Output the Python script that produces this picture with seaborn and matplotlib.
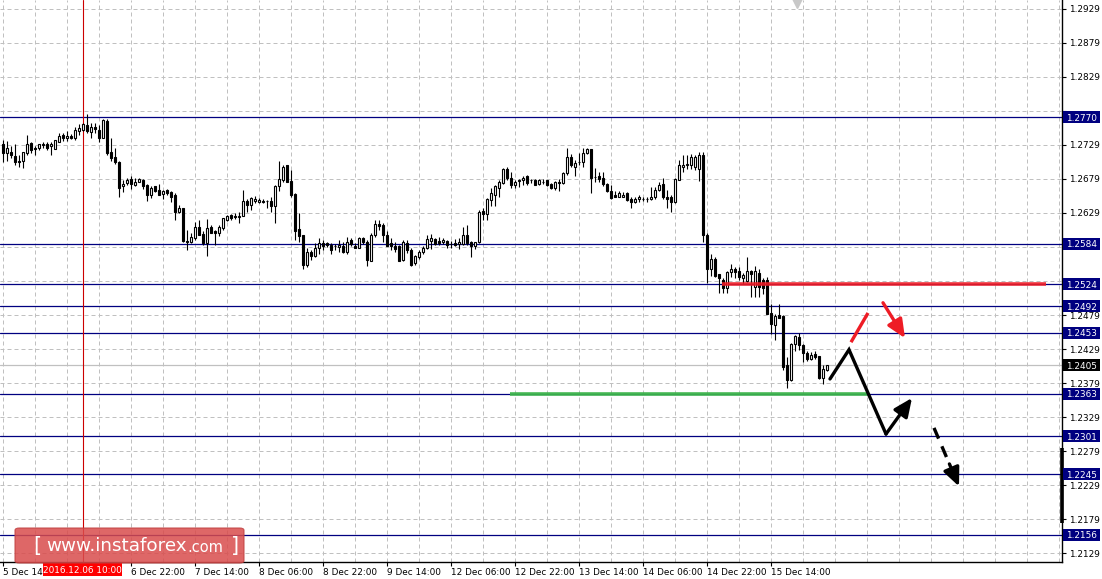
import numpy as np
import pandas as pd
import matplotlib
matplotlib.use("Agg")
import matplotlib.pyplot as plt
import matplotlib.transforms as mtransforms
from matplotlib.patches import Rectangle, FancyBboxPatch
import seaborn as sns

# ---------------- data (hourly candles) ----------------
opens = [
    1.2730, 1.2717, 1.2718, 1.2713, 1.2706, 1.2706, 1.2717, 1.2732, 1.2725, 1.2724,
    1.2729, 1.2730, 1.2727, 1.2723, 1.2734, 1.2744, 1.2740, 1.2742, 1.2739, 1.2749,
    1.2751, 1.2759, 1.2748, 1.2755, 1.2751, 1.2740, 1.2764, 1.2718, 1.2711, 1.2704,
    1.2668, 1.2673, 1.2679, 1.2670, 1.2675, 1.2678, 1.2670, 1.2656, 1.2669, 1.2663,
    1.2657, 1.2663, 1.2660, 1.2655, 1.2631, 1.2636, 1.2588, 1.2586, 1.2592, 1.2608,
    1.2598, 1.2585, 1.2609, 1.2602, 1.2599, 1.2607, 1.2618, 1.2626, 1.2625, 1.2623,
    1.2624, 1.2647, 1.2641, 1.2646, 1.2645, 1.2647, 1.2647, 1.2646, 1.2640, 1.2669,
    1.2678, 1.2699, 1.2676, 1.2657, 1.2605, 1.2596, 1.2553, 1.2572, 1.2566, 1.2577,
    1.2585, 1.2585, 1.2582, 1.2580, 1.2579, 1.2581, 1.2572, 1.2589, 1.2581, 1.2578,
    1.2592, 1.2587, 1.2559, 1.2596, 1.2613, 1.2612, 1.2597, 1.2585, 1.2580, 1.2580,
    1.2560, 1.2585, 1.2575, 1.2555, 1.2565, 1.2571, 1.2577, 1.2588, 1.2591, 1.2588,
    1.2586, 1.2588, 1.2584, 1.2585, 1.2584, 1.2584, 1.2596, 1.2586, 1.2581, 1.2586,
    1.2632, 1.2627, 1.2648, 1.2656, 1.2666, 1.2673, 1.2693, 1.2681, 1.2670, 1.2676,
    1.2677, 1.2683, 1.2677, 1.2678, 1.2671, 1.2675, 1.2677, 1.2672, 1.2666, 1.2674,
    1.2673, 1.2688, 1.2712, 1.2697, 1.2704, 1.2704, 1.2717, 1.2723, 1.2682, 1.2684,
    1.2680, 1.2671, 1.2662, 1.2656, 1.2653, 1.2653, 1.2658, 1.2649, 1.2645, 1.2649,
    1.2650, 1.2649, 1.2649, 1.2652, 1.2663, 1.2671, 1.2653, 1.2652, 1.2645, 1.2678,
    1.2697, 1.2699, 1.2699, 1.2696, 1.2694, 1.2715, 1.2596, 1.2547, 1.2562, 1.2539,
    1.2531, 1.2518, 1.2542, 1.2547, 1.2544, 1.2534, 1.2529, 1.2543, 1.2520, 1.2541,
    1.2531, 1.2530, 1.2482, 1.2464, 1.2479, 1.2477, 1.2405, 1.2383, 1.2436, 1.2447,
    1.2435, 1.2423, 1.2414, 1.2421, 1.2418, 1.2387, 1.2398,
]
highs = [
    1.2737, 1.2735, 1.2727, 1.2730, 1.2715, 1.2719, 1.2744, 1.2733, 1.2728, 1.2731,
    1.2733, 1.2733, 1.2733, 1.2737, 1.2746, 1.2746, 1.2750, 1.2745, 1.2756, 1.2760,
    1.2761, 1.2775, 1.2761, 1.2761, 1.2758, 1.2767, 1.2767, 1.2739, 1.2724, 1.2705,
    1.2678, 1.2681, 1.2683, 1.2680, 1.2681, 1.2679, 1.2671, 1.2669, 1.2669, 1.2672,
    1.2663, 1.2664, 1.2662, 1.2658, 1.2641, 1.2637, 1.2604, 1.2599, 1.2616, 1.2619,
    1.2602, 1.2620, 1.2612, 1.2604, 1.2612, 1.2622, 1.2626, 1.2627, 1.2629, 1.2630,
    1.2663, 1.2649, 1.2653, 1.2654, 1.2651, 1.2649, 1.2648, 1.2653, 1.2670, 1.2705,
    1.2700, 1.2700, 1.2692, 1.2658, 1.2629, 1.2597, 1.2577, 1.2575, 1.2585, 1.2592,
    1.2589, 1.2586, 1.2585, 1.2584, 1.2589, 1.2587, 1.2594, 1.2592, 1.2585, 1.2594,
    1.2594, 1.2589, 1.2599, 1.2619, 1.2619, 1.2615, 1.2602, 1.2592, 1.2586, 1.2582,
    1.2590, 1.2590, 1.2577, 1.2567, 1.2575, 1.2580, 1.2597, 1.2598, 1.2592, 1.2593,
    1.2592, 1.2590, 1.2588, 1.2591, 1.2592, 1.2609, 1.2612, 1.2588, 1.2587, 1.2634,
    1.2636, 1.2651, 1.2666, 1.2670, 1.2678, 1.2695, 1.2697, 1.2690, 1.2678, 1.2679,
    1.2683, 1.2685, 1.2679, 1.2679, 1.2679, 1.2679, 1.2678, 1.2673, 1.2676, 1.2679,
    1.2689, 1.2724, 1.2716, 1.2707, 1.2717, 1.2724, 1.2725, 1.2723, 1.2695, 1.2690,
    1.2689, 1.2673, 1.2670, 1.2661, 1.2662, 1.2660, 1.2660, 1.2652, 1.2653, 1.2655,
    1.2653, 1.2652, 1.2667, 1.2667, 1.2675, 1.2680, 1.2663, 1.2655, 1.2680, 1.2707,
    1.2714, 1.2714, 1.2716, 1.2714, 1.2719, 1.2719, 1.2600, 1.2569, 1.2565, 1.2540,
    1.2534, 1.2544, 1.2554, 1.2550, 1.2549, 1.2541, 1.2565, 1.2545, 1.2551, 1.2546,
    1.2534, 1.2535, 1.2495, 1.2480, 1.2495, 1.2479, 1.2417, 1.2438, 1.2449, 1.2452,
    1.2436, 1.2426, 1.2425, 1.2426, 1.2419, 1.2405, 1.2406,
]
lows = [
    1.2704, 1.2705, 1.2710, 1.2700, 1.2696, 1.2695, 1.2714, 1.2717, 1.2715, 1.2722,
    1.2725, 1.2722, 1.2715, 1.2723, 1.2733, 1.2735, 1.2735, 1.2738, 1.2737, 1.2744,
    1.2749, 1.2746, 1.2740, 1.2746, 1.2733, 1.2739, 1.2715, 1.2705, 1.2701, 1.2653,
    1.2660, 1.2670, 1.2665, 1.2668, 1.2674, 1.2665, 1.2647, 1.2651, 1.2660, 1.2655,
    1.2650, 1.2656, 1.2645, 1.2619, 1.2629, 1.2587, 1.2575, 1.2585, 1.2590, 1.2596,
    1.2582, 1.2566, 1.2599, 1.2582, 1.2595, 1.2604, 1.2617, 1.2619, 1.2620, 1.2614,
    1.2624, 1.2631, 1.2633, 1.2644, 1.2644, 1.2643, 1.2636, 1.2631, 1.2614, 1.2661,
    1.2675, 1.2674, 1.2653, 1.2590, 1.2586, 1.2546, 1.2550, 1.2560, 1.2564, 1.2569,
    1.2575, 1.2579, 1.2569, 1.2575, 1.2572, 1.2570, 1.2569, 1.2580, 1.2577, 1.2577,
    1.2584, 1.2551, 1.2558, 1.2594, 1.2604, 1.2587, 1.2580, 1.2575, 1.2572, 1.2558,
    1.2559, 1.2570, 1.2551, 1.2553, 1.2562, 1.2569, 1.2576, 1.2576, 1.2582, 1.2582,
    1.2583, 1.2578, 1.2577, 1.2580, 1.2576, 1.2582, 1.2582, 1.2564, 1.2576, 1.2585,
    1.2619, 1.2619, 1.2639, 1.2639, 1.2652, 1.2671, 1.2678, 1.2666, 1.2666, 1.2667,
    1.2670, 1.2670, 1.2673, 1.2670, 1.2670, 1.2672, 1.2668, 1.2665, 1.2663, 1.2661,
    1.2671, 1.2685, 1.2697, 1.2684, 1.2699, 1.2697, 1.2716, 1.2658, 1.2675, 1.2675,
    1.2668, 1.2660, 1.2650, 1.2652, 1.2652, 1.2652, 1.2647, 1.2636, 1.2643, 1.2645,
    1.2647, 1.2645, 1.2648, 1.2650, 1.2662, 1.2650, 1.2637, 1.2631, 1.2644, 1.2677,
    1.2689, 1.2694, 1.2693, 1.2692, 1.2676, 1.2587, 1.2526, 1.2536, 1.2535, 1.2512,
    1.2511, 1.2511, 1.2535, 1.2534, 1.2530, 1.2525, 1.2528, 1.2506, 1.2505, 1.2506,
    1.2510, 1.2480, 1.2451, 1.2442, 1.2474, 1.2398, 1.2371, 1.2382, 1.2426, 1.2427,
    1.2410, 1.2412, 1.2413, 1.2414, 1.2385, 1.2378, 1.2397,
]
closes = [
    1.2717, 1.2724, 1.2715, 1.2704, 1.2704, 1.2718, 1.2730, 1.2722, 1.2723, 1.2730,
    1.2730, 1.2725, 1.2730, 1.2737, 1.2742, 1.2740, 1.2742, 1.2739, 1.2751, 1.2754,
    1.2760, 1.2749, 1.2756, 1.2752, 1.2739, 1.2766, 1.2717, 1.2710, 1.2704, 1.2666,
    1.2671, 1.2678, 1.2672, 1.2675, 1.2679, 1.2668, 1.2656, 1.2666, 1.2662, 1.2656,
    1.2662, 1.2658, 1.2652, 1.2630, 1.2636, 1.2588, 1.2587, 1.2593, 1.2608, 1.2597,
    1.2585, 1.2607, 1.2600, 1.2599, 1.2609, 1.2621, 1.2624, 1.2622, 1.2623, 1.2625,
    1.2647, 1.2641, 1.2651, 1.2649, 1.2648, 1.2645, 1.2647, 1.2640, 1.2669, 1.2679,
    1.2697, 1.2675, 1.2655, 1.2603, 1.2595, 1.2553, 1.2572, 1.2566, 1.2578, 1.2585,
    1.2581, 1.2582, 1.2575, 1.2580, 1.2582, 1.2571, 1.2587, 1.2584, 1.2578, 1.2592,
    1.2586, 1.2560, 1.2597, 1.2613, 1.2610, 1.2597, 1.2581, 1.2580, 1.2576, 1.2559,
    1.2587, 1.2574, 1.2553, 1.2566, 1.2572, 1.2577, 1.2591, 1.2592, 1.2584, 1.2585,
    1.2590, 1.2582, 1.2584, 1.2582, 1.2586, 1.2596, 1.2585, 1.2580, 1.2587, 1.2630,
    1.2627, 1.2650, 1.2658, 1.2668, 1.2675, 1.2694, 1.2680, 1.2670, 1.2675, 1.2678,
    1.2680, 1.2673, 1.2677, 1.2670, 1.2677, 1.2675, 1.2670, 1.2666, 1.2674, 1.2673,
    1.2688, 1.2711, 1.2699, 1.2702, 1.2704, 1.2717, 1.2723, 1.2681, 1.2682, 1.2679,
    1.2671, 1.2661, 1.2651, 1.2653, 1.2658, 1.2656, 1.2648, 1.2645, 1.2649, 1.2652,
    1.2650, 1.2649, 1.2652, 1.2663, 1.2670, 1.2652, 1.2650, 1.2645, 1.2679, 1.2699,
    1.2699, 1.2701, 1.2711, 1.2712, 1.2715, 1.2596, 1.2547, 1.2562, 1.2536, 1.2533,
    1.2518, 1.2542, 1.2547, 1.2542, 1.2535, 1.2538, 1.2543, 1.2540, 1.2543, 1.2520,
    1.2519, 1.2481, 1.2466, 1.2477, 1.2475, 1.2403, 1.2384, 1.2437, 1.2448, 1.2435,
    1.2423, 1.2415, 1.2420, 1.2417, 1.2386, 1.2399, 1.2405,
]

# time axis: labels every 16 bars; the first one is partly covered by the crosshair label
time_tick_labels = ["5 Dec 14:", "", "6 Dec 22:00", "7 Dec 14:00",
                    "8 Dec 06:00", "8 Dec 22:00", "9 Dec 14:00", "12 Dec 06:00",
                    "12 Dec 22:00", "13 Dec 14:00", "14 Dec 06:00", "14 Dec 22:00",
                    "15 Dec 14:00"]
time_tick_bars = [0, 16, 32, 48, 64, 80, 96, 112, 128, 144, 160, 176, 192]

# price scale: grid every 50 pips; labels hidden under the level boxes are left blank
price_ticks = [1.2929, 1.2879, 1.2829, 1.2779, 1.2729, 1.2679, 1.2629, 1.2579,
               1.2529, 1.2479, 1.2429, 1.2379, 1.2329, 1.2279, 1.2229, 1.2179, 1.2129]
price_tick_labels = ["1.2929", "1.2879", "1.2829", "", "1.2729", "1.2679", "1.2629", "",
                     "", "1.2479", "1.2429", "1.2379", "1.2329", "1.2279", "1.2229",
                     "1.2179", "1.2129"]
level_prices = [1.2770, 1.2584, 1.2524, 1.2492, 1.2453, 1.2363, 1.2301, 1.2245, 1.2156]
bid_price = 1.2405
crosshair_bar = 20
crosshair_label = "2016.12.06 10:00"

resistance_price, resistance_from, resistance_to = 1.2524, 179.75, 260.75
support_price, support_from, support_to = 1.2363, 126.75, 216.25

red_up_bars = [212.0, 216.25]
red_up_prices = [1.2439, 1.2482]
red_down_bars = [220.0, 225.5]
red_down_prices = [1.2497, 1.2445]

black_path_bars = [206.75, 211.5, 220.75, 227.25]
black_path_prices = [1.2385, 1.2428, 1.2304, 1.2357]
black_dash_bars = [232.75, 236.6, 239.0]
black_dash_prices = [1.2313, 1.2260, 1.2227]

# ---------------- figure ----------------
sns.set_theme(style="white")
plt.rcParams['font.family'] = ['DejaVu Sans']

W, H = 1102, 579
fig = plt.figure(figsize=(W / 100, H / 100), dpi=100)
fig.patch.set_facecolor("white")
ax = fig.add_axes([0, 17 / H, 1062 / W, 562 / H])
ax.set_facecolor("white")
x_lo, x_hi = -0.75, 264.75
y_lo, y_hi = 1.21158, 1.29422
ax.set_xlim(x_lo, x_hi)
ax.set_ylim(y_lo, y_hi)

df = pd.DataFrame({"o": opens, "h": highs, "l": lows, "c": closes})
df["bar"] = np.arange(len(df))

grid_kw = dict(color="#c0c0c0", lw=0.72, ls=(0, (4, 3)), zorder=1)
for gx in np.arange(0, x_hi, 8):
    ax.axvline(gx, **grid_kw)
for gp in price_ticks:
    ax.axhline(gp, **grid_kw)

for lv in level_prices:
    ax.axhline(lv, color="#000080", lw=0.9, zorder=2)
ax.axhline(bid_price, color="#c0c0c0", lw=0.9, zorder=2)
ax.axvline(crosshair_bar, color="#cc0000", lw=0.8, zorder=2)

# candles
ax.vlines(df["bar"], df["l"], df["h"], color="black", lw=0.8, zorder=3)
bull = df["c"] >= df["o"]
ax.bar(df["bar"][bull], (df["c"] - df["o"])[bull], bottom=df["o"][bull], width=0.6,
       color="white", edgecolor="black", linewidth=0.8, zorder=4)
ax.bar(df["bar"][~bull], (df["o"] - df["c"])[~bull], bottom=df["c"][~bull], width=0.6,
       color="black", edgecolor="black", linewidth=0.8, zorder=4)

# analyst drawings
ax.plot([resistance_from, resistance_to], [resistance_price] * 2, color="#ee1c25",
        lw=2.6, alpha=0.9, solid_capstyle="butt", zorder=5)
ax.plot([support_from, support_to], [support_price] * 2, color="#3cb44b",
        lw=2.6, alpha=0.95, solid_capstyle="butt", zorder=5)

arrow_style = "-|>,head_length=0.85,head_width=0.38"
ax.plot(red_up_bars, red_up_prices, color="#ee1c25", lw=2.4, solid_capstyle="butt", zorder=6)
ax.annotate("", xy=(red_down_bars[1], red_down_prices[1]),
            xytext=(red_down_bars[0], red_down_prices[0]),
            arrowprops=dict(arrowstyle=arrow_style, color="#ee1c25", lw=2.4,
                            mutation_scale=13, shrinkA=0, shrinkB=0), zorder=6)

ax.plot(black_path_bars[:3], black_path_prices[:3], color="black", lw=2.4,
        solid_joinstyle="miter", zorder=6)
ax.annotate("", xy=(black_path_bars[3], black_path_prices[3]),
            xytext=(black_path_bars[2], black_path_prices[2]),
            arrowprops=dict(arrowstyle=arrow_style, color="black", lw=2.4,
                            mutation_scale=13, shrinkA=0, shrinkB=0), zorder=6)
ax.plot(black_dash_bars[:2], black_dash_prices[:2], color="black", lw=2.4,
        ls=(0, (3.5, 2.5)), zorder=6)
ax.annotate("", xy=(black_dash_bars[2], black_dash_prices[2]),
            xytext=(black_dash_bars[1], black_dash_prices[1]),
            arrowprops=dict(arrowstyle=arrow_style, color="black", lw=2.4,
                            mutation_scale=13, shrinkA=0, shrinkB=0), zorder=6)

# small shift marker at the top
ax.plot([198.5], [y_hi - 0.0004], marker="v", color="#c8c8c8", ms=7, clip_on=False, zorder=6)

# ---------------- axes / ticks ----------------
for s in ["left", "top"]:
    ax.spines[s].set_visible(False)
for s in ["right", "bottom"]:
    ax.spines[s].set_color("black")
    ax.spines[s].set_linewidth(1.0)

ax.yaxis.tick_right()
ax.set_yticks(price_ticks)
ax.set_yticklabels(price_tick_labels)
ax.set_xticks(time_tick_bars)
ax.set_xticklabels(time_tick_labels)
for lbl in ax.get_xticklabels():
    lbl.set_horizontalalignment("left")
ax.tick_params(axis="y", which="both", direction="out", length=3, width=0.8,
               color="black", labelsize=6.4, pad=2, labelcolor="black",
               right=True, left=False)
ax.tick_params(axis="x", which="both", direction="out", length=3, width=0.8,
               color="black", labelsize=6.4, pad=1.5, labelcolor="black", bottom=True)
ax.grid(False)

# thick bar on the price scale
ax.plot([x_hi, x_hi], [1.2173, 1.2283], color="black", lw=2.6, solid_capstyle="butt",
        clip_on=False, zorder=7)

# level labels on the price scale
trans_lab = mtransforms.blended_transform_factory(fig.transFigure, ax.transData)
px_price = (y_hi - y_lo) / 562.0
for lv in level_prices:
    ax.add_patch(Rectangle((1063 / W, lv - 6 * px_price), 37 / W, 12 * px_price,
                           transform=trans_lab, facecolor="#000080", edgecolor="none",
                           clip_on=False, zorder=10))
    ax.text(1066 / W, lv, f"{lv:.4f}", transform=trans_lab, color="white",
            fontsize=6.4, ha="left", va="center_baseline", clip_on=False, zorder=11)
ax.add_patch(Rectangle((1063 / W, bid_price - 6 * px_price), 37 / W, 12 * px_price,
                       transform=trans_lab, facecolor="black", edgecolor="none",
                       clip_on=False, zorder=10))
ax.text(1066 / W, bid_price, f"{bid_price:.4f}", transform=trans_lab, color="white",
        fontsize=6.4, ha="left", va="center_baseline", clip_on=False, zorder=11)

# crosshair time label
trans_time = mtransforms.blended_transform_factory(ax.transData, fig.transFigure)
ax.add_patch(Rectangle((crosshair_bar - 10.0, 3 / H), 19.75, 13 / H, transform=trans_time,
                       facecolor="#ff0000", edgecolor="none", clip_on=False, zorder=10))
ax.text(crosshair_bar - 0.1, 9.5 / H, crosshair_label, transform=trans_time, color="white",
        fontsize=6.4, ha="center", va="center_baseline", clip_on=False, zorder=11)

# watermark
wm = FancyBboxPatch((15 / W, 16 / H), 229 / W, 35 / H,
                    boxstyle="round,pad=0,rounding_size=0.004",
                    transform=fig.transFigure, facecolor="#d94c4c", edgecolor="#c04040",
                    linewidth=0.8, alpha=0.85, zorder=20)
fig.add_artist(wm)
fig.text(33 / W, 33 / H, "[", color="white", fontsize=15, ha="left", va="center",
         zorder=21)
t_main = fig.text(46 / W, 33 / H, "www.instaforex", color="white", fontsize=13.2,
                  ha="left", va="center", zorder=21)
fig.canvas.draw()
bb = t_main.get_window_extent()
fig.text((bb.x1 + 0.3) / W, 31.5 / H, ".com", color="white", fontsize=10.5,
         ha="left", va="center", zorder=21)
fig.text(231 / W, 33 / H, "]", color="white", fontsize=15, ha="left", va="center",
         zorder=21)

fig.savefig("out.png", dpi=100, facecolor="white")
